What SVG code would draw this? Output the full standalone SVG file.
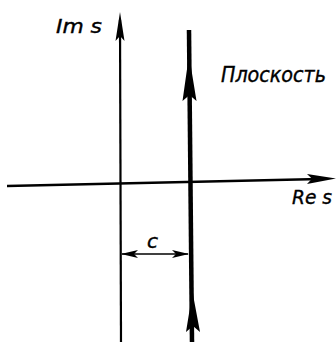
<svg xmlns="http://www.w3.org/2000/svg" width="336" height="342" viewBox="0 0 336 342">
<style>
.t{font-family:"DejaVu Sans","Liberation Sans",sans-serif;font-style:italic;fill:#000;stroke:#000;stroke-width:0.4}
.ax{stroke:#000;fill:none}
.ah{fill:#000;stroke:none}
</style>
<rect width="336" height="342" fill="#fff"/>
<g id="axes">
<line class="ax" x1="120" y1="20" x2="121" y2="342" stroke-width="2.2"/>
<polygon class="ah" points="120,12 124.5,41 120,36 115.5,41"/>
<line class="ax" x1="7" y1="186" x2="320" y2="179" stroke-width="2.6"/>
<polygon class="ah" points="336,178.5 307,184 312,178.8 307,174"/>
</g>
<g id="contour">
<line class="ax" x1="189" y1="30" x2="192" y2="342" stroke-width="4.5"/>
<polygon class="ah" points="189,55 196.5,101 189.5,95 182.5,101"/>
<polygon class="ah" points="192.5,292 200,332 193,326 186,332"/>
</g>
<g id="dimension">
<line class="ax" x1="122" y1="254" x2="188" y2="254" stroke-width="1.3"/>
<polygon class="ah" points="121,254 138,250 134,254 138,258"/>
<polygon class="ah" points="189,254 172,250 176,254 172,258"/>
</g>
<g id="labels">
<text class="t" x="56" y="33" font-size="20" textLength="46" lengthAdjust="spacingAndGlyphs">Im s</text>
<text class="t" x="221" y="82" font-size="21" textLength="105" lengthAdjust="spacingAndGlyphs">Плоскость</text>
<text class="t" x="292" y="204" font-size="20" textLength="40" lengthAdjust="spacingAndGlyphs">Re s</text>
<text class="t" x="147" y="248" font-size="19" textLength="11" lengthAdjust="spacingAndGlyphs">c</text>
</g>
</svg>
